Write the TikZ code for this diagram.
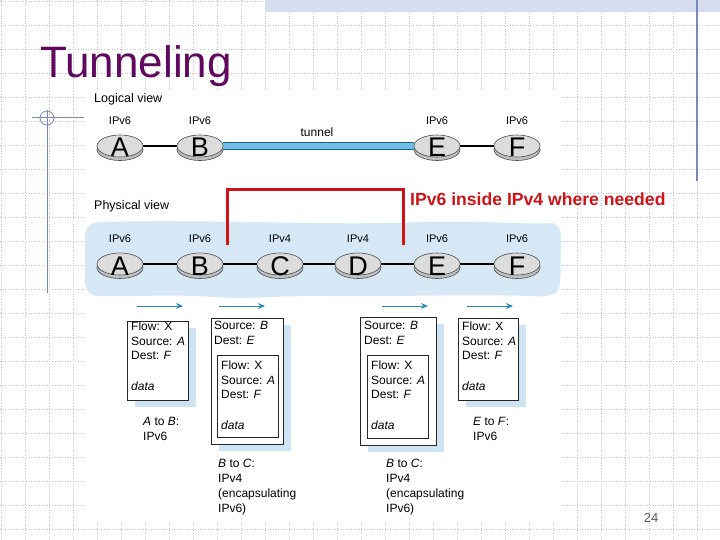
\documentclass[tikz,border=0pt]{standalone}
\usepackage{fontspec}
\setmainfont{Liberation Sans}
\usetikzlibrary{shapes.geometric,shadows,arrows.meta}

\definecolor{titlepurple}{RGB}{96,8,96}
\definecolor{slideblue}{RGB}{120,136,190}
\definecolor{barblue}{RGB}{212,220,238}
\definecolor{cloudblue}{RGB}{214,232,246}
\definecolor{tunnelblue}{RGB}{110,190,232}
\definecolor{flowblue}{RGB}{40,140,185}
\definecolor{shadeblue}{RGB}{206,228,244}
\definecolor{notered}{RGB}{205,20,25}
\definecolor{routergray}{RGB}{220,220,220}

\pgfdeclarelayer{back}
\pgfdeclarelayer{wires}
\pgfsetlayers{back,wires,main}

% router letter sits a little low in the disc
\newcommand{\rlet}[1]{\raisebox{-11pt}[0pt][0pt]{#1}}

\tikzset{
  gridline/.style={gray!45, dotted, line width=0.6pt},
  router/.style={ellipse, draw=black!70, fill=routergray, line width=0.6pt,
    minimum width=46pt, minimum height=22pt, inner sep=0pt,
    font=\fontsize{27}{27}\selectfont,
    general shadow={shadow yshift=-3.5pt, fill=gray!50, draw=black!70}},
  lbl/.style={font=\fontsize{11}{11}\selectfont, inner sep=0pt},
  wire/.style={line width=1.6pt},
  tunnel/.style={draw=tunnelblue, line width=6pt,
    preaction={draw=flowblue!70!black, line width=8pt}},
  flow/.style={flowblue, line width=1pt, -{Stealth[length=7pt,width=6pt]}},
  pkt/.style={draw=black!85, fill=white, line width=0.8pt, anchor=north west,
    inner sep=0pt, general shadow={shadow xshift=8pt, shadow yshift=-7pt, fill=shadeblue}},
  inpkt/.style={draw=black!85, fill=white, line width=0.8pt, anchor=north west, inner sep=0pt},
  pkttext/.style={anchor=north west, inner sep=0pt, align=left,
    font=\fontsize{12}{14.5}\selectfont},
  hoptext/.style={anchor=north west, inner sep=0pt, align=left,
    font=\fontsize{12}{15}\selectfont}
}

\begin{document}
\begin{tikzpicture}[x=1pt, y=-1pt]
  \useasboundingbox (0,0) rectangle (720,540);

  % slide background
  \begin{pgfonlayer}{back}
    \fill[white] (0,0) rectangle (720,540);
    \foreach \k in {0,...,29} \draw[gridline] (1+24*\k,0) -- (1+24*\k,540);
    \foreach \k in {0,...,22} \draw[gridline] (0,1+24*\k) -- (720,1+24*\k);
    \fill[white] (85,90) rectangle (560,522);
    \fill[barblue] (265,0) rectangle (720,12);
    \draw[slideblue, line width=1.2pt] (697,0) -- (697,181);
    \draw[slideblue, line width=1pt] (32,118) -- (84,118);
    \draw[slideblue, line width=1pt] (47,110) -- (47,293);
    \draw[slideblue, line width=0.8pt] (47,118) circle (7);

    % physical network area
    \fill[cloudblue] (100,222) .. controls (220,219) and (330,226) .. (420,222)
      .. controls (480,220) and (530,225) .. (552,223)
      .. controls (560,225) and (562,232) .. (561,245)
      .. controls (560,265) and (562,280) .. (558,290)
      .. controls (555,296) and (545,297) .. (530,296)
      .. controls (450,294) and (400,297) .. (330,296)
      .. controls (280,295) and (250,300) .. (215,297)
      .. controls (170,294) and (130,297) .. (100,296)
      .. controls (88,296) and (85,290) .. (85,280) -- (85,238)
      .. controls (85,228) and (90,222) .. (100,222) -- cycle;
  \end{pgfonlayer}

  % title
  \node[anchor=base west, inner sep=0pt, text=titlepurple,
    font=\fontsize{44}{44}\selectfont] (title) at (40,78) {Tunneling};

  % logical view
  \node[anchor=west, inner sep=0pt, font=\fontsize{12.5}{12.5}\selectfont] (logical) at (94,99) {Logical view};
  \node[router, label={[lbl, label distance=10pt]above:IPv6}] (la) at (120,146) {\rlet{A}};
  \node[router, label={[lbl, label distance=10pt]above:IPv6}] (lb) at (200,146) {\rlet{B}};
  \node[router, label={[lbl, label distance=10pt]above:IPv6}] (le) at (437,146) {\rlet{E}};
  \node[router, label={[lbl, label distance=10pt]above:IPv6}] (lf) at (517,146) {\rlet{F}};
  \node[lbl, font=\fontsize{12}{12}\selectfont] (tunnellbl) at (317,132) {tunnel};

  \begin{pgfonlayer}{wires}
    \draw[wire] (la) -- (lb);
    \draw[tunnel] (lb.east) -- (le.west);
    \draw[wire] (le) -- (lf);
  \end{pgfonlayer}

  % physical view
  \node[anchor=west, inner sep=0pt, font=\fontsize{12.5}{12.5}\selectfont] (physical) at (94,206) {Physical view};
  \node[router, label={[lbl, label distance=10pt]above:IPv6}] (pa) at (120,264) {\rlet{A}};
  \node[router, label={[lbl, label distance=10pt]above:IPv6}] (pb) at (200,264) {\rlet{B}};
  \node[router, label={[lbl, label distance=10pt]above:IPv4}] (pc) at (280,264) {\rlet{C}};
  \node[router, label={[lbl, label distance=10pt]above:IPv4}] (pd) at (358,264) {\rlet{D}};
  \node[router, label={[lbl, label distance=10pt]above:IPv6}] (pe) at (437,264) {\rlet{E}};
  \node[router, label={[lbl, label distance=10pt]above:IPv6}] (pf) at (517,264) {\rlet{F}};

  \begin{pgfonlayer}{wires}
    \draw[wire] (pa) -- (pb) -- (pc) -- (pd) -- (pe) -- (pf);
  \end{pgfonlayer}

  % where the tunnel is
  \coordinate (rb1) at (227,245);
  \coordinate (rb2) at (403,245);
  \draw[notered, line width=3pt] (rb1) -- ++(0,-55) -| (rb2);
  \node[anchor=base west, inner sep=0pt, text=notered,
    font=\fontsize{17.6}{17.6}\selectfont\bfseries] (inside) at (410,206) {IPv6 inside IPv4 where needed};

  % direction of flow
  \foreach \x/\n in {137/1,219/2,382/3,467/4} {
    \coordinate (fs\n) at (\x,306);
    \coordinate (fe\n) at (\x+46,306);
    \draw[flow] (fs\n) -- (fe\n);
  }

  % packets
  \node[pkt, minimum width=61pt, minimum height=79pt] (p1) at (127,321) {};
  \node[pkttext] (p1t) at (131,322) {Flow: X\\Source: \textit{A}\\Dest: \textit{F}\\[16pt]\textit{data}};
  \node[hoptext] (h1) at (143,417) {\textit{A} to \textit{B}:\\IPv6};

  \node[pkt, minimum width=72pt, minimum height=126pt] (p2) at (211,318) {};
  \node[pkttext] (p2t) at (214,321) {Source: \textit{B}\\Dest: \textit{E}};
  \node[inpkt, minimum width=61pt, minimum height=82pt] (p2i) at (217,355) {};
  \node[pkttext] (p2it) at (221,361) {Flow: X\\Source: \textit{A}\\Dest: \textit{F}\\[16pt]\textit{data}};
  \node[hoptext] (h2) at (218,459) {\textit{B} to \textit{C}:\\IPv4\\(encapsulating\\IPv6)};

  \node[pkt, minimum width=76pt, minimum height=128pt] (p3) at (360,317) {};
  \node[pkttext] (p3t) at (364,321) {Source: \textit{B}\\Dest: \textit{E}};
  \node[inpkt, minimum width=61pt, minimum height=83pt] (p3i) at (367,355) {};
  \node[pkttext] (p3it) at (371,361) {Flow: X\\Source: \textit{A}\\Dest: \textit{F}\\[16pt]\textit{data}};
  \node[hoptext] (h3) at (386,459) {\textit{B} to \textit{C}:\\IPv4\\(encapsulating\\IPv6)};

  \node[pkt, minimum width=60pt, minimum height=82pt] (p4) at (458,318) {};
  \node[pkttext] (p4t) at (462,322) {Flow: X\\Source: \textit{A}\\Dest: \textit{F}\\[16pt]\textit{data}};
  \node[hoptext] (h4) at (473,417) {\textit{E} to \textit{F}:\\IPv6};

  % slide number
  \node[anchor=base, inner sep=0pt, text=gray!70!black,
    font=\fontsize{13}{13}\selectfont] (pageno) at (651,522) {24};
\end{tikzpicture}
\end{document}
